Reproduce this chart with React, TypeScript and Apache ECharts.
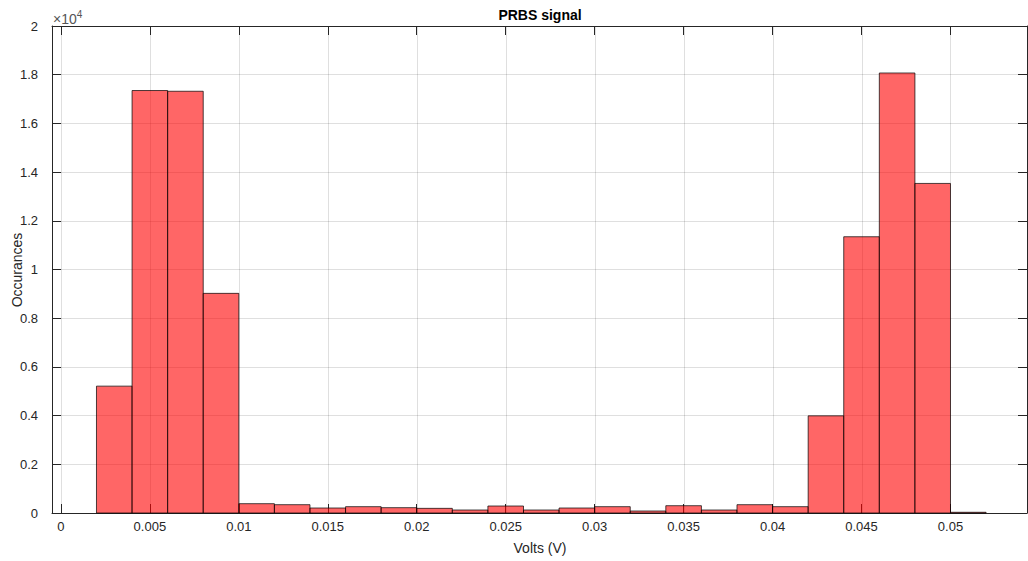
import React, { useEffect, useRef } from "react";
import * as echarts from "echarts";

const binEdges = [
  0.002, 0.004, 0.006, 0.008, 0.01, 0.012, 0.014, 0.016, 0.018, 0.02, 0.022, 0.024, 0.026,
  0.028, 0.03, 0.032, 0.034, 0.036, 0.038, 0.04, 0.042, 0.044, 0.046, 0.048, 0.05, 0.052,
];
const counts = [
  5210, 17350, 17320, 9020, 383, 342, 205, 260, 219, 191, 123, 287, 123, 205, 260, 82, 300,
  123, 342, 260, 3990, 11345, 18070, 13535, 30,
];
const xTicks = [0, 0.005, 0.01, 0.015, 0.02, 0.025, 0.03, 0.035, 0.04, 0.045, 0.05];
const xMin = -0.0005;
const xMax = 0.0543;
const yMax = 20000;
const yStep = 2000;

const TITLE = "PRBS signal";
const X_NAME = "Volts (V)";
const Y_NAME = "Occurances";

const FONT = "'Liberation Sans', Arial, Helvetica, sans-serif";
const AX = "#262626";
const GRID = "rgba(38,38,38,0.15)";

export default function App() {
  const ref = useRef<HTMLDivElement>(null);
  useEffect(() => {
    document.body.style.margin = "0";
    if (!ref.current) return;
    const chart = echarts.init(ref.current, undefined, { renderer: "svg" });
    const data = counts.map((c, i) => [binEdges[i], binEdges[i + 1], c]);
    const fmtY = (v: number) => String(parseFloat((v / 1e4).toFixed(2)));
    const tickCommon = { inside: true, length: 9, lineStyle: { color: AX, width: 1 } };
    const lineCommon = { show: true, onZero: false, lineStyle: { color: AX, width: 1 } };
    chart.setOption({
      animation: false,
      textStyle: { fontFamily: FONT },
      grid: { left: 52, right: 1, top: 26, bottom: 48, containLabel: false },
      xAxis: [
        {
          type: "value",
          position: "bottom",
          min: xMin,
          max: xMax,
          axisLine: lineCommon,
          axisTick: { ...tickCommon, customValues: xTicks },
          axisLabel: {
            customValues: xTicks,
            color: AX,
            fontSize: 13,
            fontFamily: FONT,
            margin: 7,
            formatter: (v: number) => String(v),
          },
          splitLine: { show: false },
          minorSplitLine: { show: false },
        },
        {
          type: "value",
          position: "top",
          min: xMin,
          max: xMax,
          axisLine: lineCommon,
          axisTick: { ...tickCommon, customValues: xTicks },
          axisLabel: { show: false },
          splitLine: { show: false },
          minorSplitLine: { show: false },
        },
      ],
      yAxis: [
        {
          type: "value",
          position: "left",
          min: 0,
          max: yMax,
          interval: yStep,
          axisLine: lineCommon,
          axisTick: tickCommon,
          axisLabel: { color: AX, fontSize: 13, fontFamily: FONT, margin: 14, formatter: fmtY },
          splitLine: { show: true, lineStyle: { color: GRID, width: 1 } },
        },
        {
          type: "value",
          position: "right",
          min: 0,
          max: yMax,
          interval: yStep,
          axisLine: lineCommon,
          axisTick: tickCommon,
          axisLabel: { show: false },
          splitLine: { show: false },
        },
      ],
      series: [
        {
          type: "custom",
          z: 1,
          silent: true,
          data: xTicks.map((v) => [v]),
          encode: { x: 0 },
          renderItem: (params: any, api: any) => {
            const a = api.coord([api.value(0), 0]);
            const b = api.coord([api.value(0), yMax]);
            const x = Math.round(a[0]) + 0.5;
            return {
              type: "line",
              shape: { x1: x, y1: a[1], x2: x, y2: b[1] },
              style: { stroke: GRID, lineWidth: 1 },
            };
          },
        },
        {
          type: "custom",
          z: 3,
          data,
          encode: { x: [0, 1], y: 2 },
          renderItem: (params: any, api: any) => {
            const p0 = api.coord([api.value(0), 0]);
            const p1 = api.coord([api.value(1), api.value(2)]);
            return {
              type: "rect",
              shape: {
                x: p0[0],
                y: p1[1],
                width: p1[0] - p0[0],
                height: p0[1] - p1[1],
              },
              style: {
                fill: "rgba(255,0,0,0.6)",
                stroke: "rgba(0,0,0,0.7)",
                lineWidth: 1,
              },
            };
          },
        },
      ],
      graphic: [
        {
          type: "text",
          x: 540,
          y: 15,
          style: {
            text: TITLE,
            fill: "#000",
            font: `bold 14px ${FONT}`,
            align: "center",
            verticalAlign: "middle",
          },
        },
        {
          type: "text",
          x: 540,
          y: 548,
          style: {
            text: X_NAME,
            fill: AX,
            font: `14px ${FONT}`,
            align: "center",
            verticalAlign: "middle",
          },
        },
        {
          type: "text",
          x: 17,
          y: 270,
          rotation: Math.PI / 2,
          style: {
            text: Y_NAME,
            fill: AX,
            font: `14px ${FONT}`,
            align: "center",
            verticalAlign: "middle",
          },
        },
        {
          type: "text",
          x: 53,
          y: 19,
          style: {
            text: "{a|×10}{b|4}",
            verticalAlign: "middle",
            rich: {
              a: { font: `14px ${FONT}`, fill: "#555" },
              b: { font: `10px ${FONT}`, fill: "#555", padding: [0, 0, 10, 0] },
            },
          },
        },
      ],
    });
    return () => chart.dispose();
  }, []);
  return <div ref={ref} style={{ width: 1028, height: 561 }} />;
}
